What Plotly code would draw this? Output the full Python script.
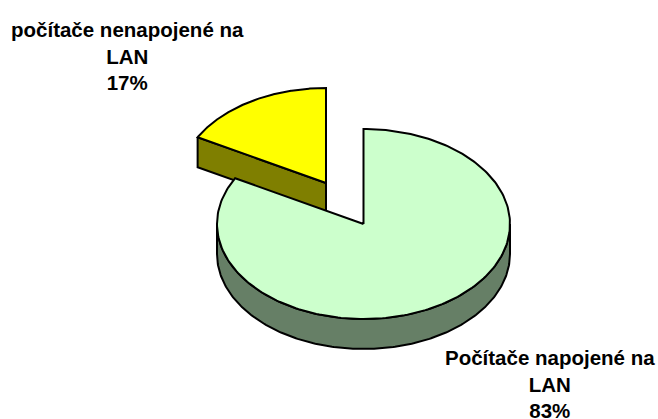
import numpy as np
import plotly.graph_objects as go

categories = ["Počítače napojené na<br>LAN", "počítače nenapojené na<br>LAN"]
values = [83, 17]
top_colors = ["#CCFFCC", "#FFFF00"]
side_colors = ["#667F66", "#7F7F00"]

W, H = 658, 419
RX, RY, DEPTH = 146.5, 95, 30
centers = [(363.5, 224), (326, 183)]
total = sum(values)

fig = go.Figure()

def add_shape(xs, ys, color):
    fig.add_trace(go.Scatter(x=xs, y=ys, mode="lines", fill="toself", fillcolor=color,
                             line=dict(color="black", width=2), hoverinfo="skip", showlegend=False))

def rim(cx, cy, a0, a1, n=240, dy=0):
    t = np.radians(np.linspace(a0, a1, n))
    return cx + RX * np.sin(t), cy - RY * np.cos(t) + dy

# small slice: runs counter-clockwise from 12 o'clock
small_angle = 360 * values[1] / total
cx, cy = centers[1]
x, y = rim(cx, cy, -small_angle, 0)
ex, ey = x[0], y[0]
add_shape([ex, ex, cx, cx, ex], [ey, ey + DEPTH, cy + DEPTH, cy, ey], side_colors[1])
add_shape(np.r_[cx, x, cx], np.r_[cy, y, cy], top_colors[1])

# big slice: clockwise from 12 o'clock
big_angle = 360 * values[0] / total
cx, cy = centers[0]
x, y = rim(cx, cy, 90, 270)
add_shape(np.r_[x, x[::-1], x[0]], np.r_[y, y[::-1] + DEPTH, y[0]], side_colors[0])
x, y = rim(cx, cy, 0, big_angle)
add_shape(np.r_[cx, x, cx], np.r_[cy, y, cy], top_colors[0])

label_pos = [(550, 383.5), (127, 55.5)]
for cat, val, (lx, ly) in zip(categories, values, label_pos):
    fig.add_annotation(x=lx, y=ly, text=f"{cat}<br>{val}%", showarrow=False, align="center",
                       font=dict(family="Liberation Sans", size=20.5, color="black", weight="bold"))

fig.update_layout(width=W, height=H, margin=dict(l=0, r=0, t=0, b=0),
                  paper_bgcolor="white", plot_bgcolor="white", showlegend=False,
                  xaxis=dict(range=[0, W], visible=False, fixedrange=True),
                  yaxis=dict(range=[H, 0], visible=False, fixedrange=True))
fig.write_html("out.html", config=dict(displayModeBar=False),
               post_script="document.body.style.margin='0';document.body.style.overflow='hidden';")
